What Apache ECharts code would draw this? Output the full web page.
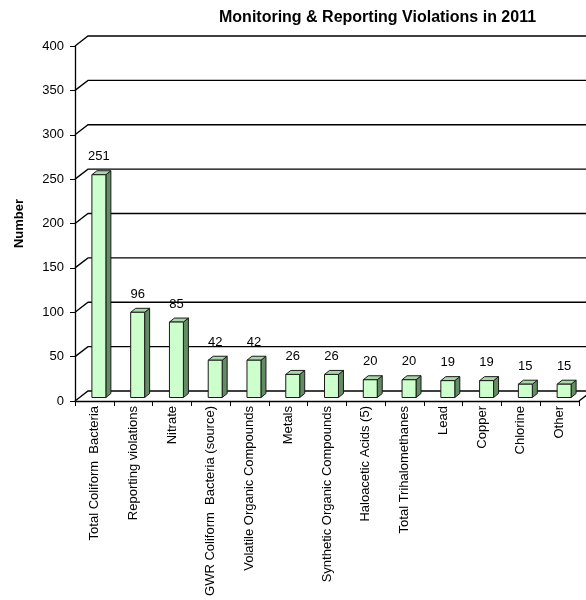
<!DOCTYPE html>
<html>
<head>
<meta charset="utf-8">
<script src="https://cdn.jsdelivr.net/npm/echarts@6/dist/echarts.min.js"></script>
<style>html,body{margin:0;padding:0;background:#fff}#c{width:586px;height:600px}</style>
</head>
<body>
<div id="c"></div>
<script>
var categories = ['Total Coliform  Bacteria','Reporting violations','Nitrate','GWR Coliform  Bacteria (source)','Volatile Organic Compounds','Metals','Synthetic Organic Compounds','Haloacetic Acids (5)','Total Trihalomethanes','Lead','Copper','Chlorine','Other'];
var values = [251, 96, 85, 42, 42, 26, 26, 20, 20, 19, 19, 15, 15];
var yTicks = [0, 50, 100, 150, 200, 250, 300, 350, 400];
var titleText = 'Monitoring & Reporting Violations in 2011';
var yName = 'Number';

var FONT = '"Liberation Sans", Arial, sans-serif';
var DX = 13, DY = -10;      // wall depth
var chart = echarts.init(document.getElementById('c'), null, {renderer: 'canvas'});

function wallItem(params, api) {
  var cs = params.coordSys;
  var v = api.value(0);
  var p = api.coord([0, v]);
  var x0 = cs.x, y = p[1];
  var children = [{
    type: 'polyline',
    shape: {points: [[x0, y], [x0 + DX, y + DY], [cs.x + cs.width + DX + 20, y + DY]]},
    style: {stroke: '#000', lineWidth: 1.3, fill: null}
  }];
  if (v === 0) {
    children.push({
      type: 'line',
      shape: {x1: cs.x + cs.width, y1: y, x2: cs.x + cs.width + DX, y2: y + DY},
      style: {stroke: '#000', lineWidth: 1.3}
    });
  }
  return {type: 'group', children: children};
}

function barItem(params, api) {
  var idx = api.value(0), val = api.value(1);
  var top = api.coord([idx, val]);
  var bot = api.coord([idx, 0]);
  var band = api.size([1, 0])[0];
  var w = band * 0.36;
  var ox = 4.5, oy = -3.5, dx = 5, dy = -4;
  var cx = top[0] + ox;
  var x0 = cx - w / 2, x1 = cx + w / 2;
  var yt = top[1] + oy, yb = bot[1] + oy;
  var st = {stroke: '#1a1a1a', lineWidth: 1};
  return {
    type: 'group',
    children: [
      {type: 'polygon', shape: {points: [[x1, yt], [x1 + dx, yt + dy], [x1 + dx, yb + dy], [x1, yb]]},
       style: Object.assign({fill: '#648c64'}, st)},
      {type: 'polygon', shape: {points: [[x0, yt], [x0 + dx, yt + dy], [x1 + dx, yt + dy], [x1, yt]]},
       style: Object.assign({fill: '#a9d6a9'}, st)},
      {type: 'rect', shape: {x: x0, y: yt, width: w, height: yb - yt},
       style: Object.assign({fill: '#ccffcc'}, st)},
      {type: 'text', style: {text: String(val), x: cx, y: yt - 18, align: 'center', verticalAlign: 'middle',
        font: '13px ' + FONT, fill: '#000'}}
    ]
  };
}

chart.setOption({
  animation: false,
  backgroundColor: '#fff',
  title: {
    text: titleText, left: 214, top: 5,
    textStyle: {fontFamily: FONT, fontSize: 16, fontWeight: 'bold', color: '#000'}
  },
  grid: {left: 75, right: 7, top: 46, bottom: 199, containLabel: false},
  xAxis: {
    type: 'category', data: categories,
    axisLine: {show: true, lineStyle: {color: '#000', width: 1.3}},
    axisTick: {show: true, length: 5, lineStyle: {color: '#000'}},
    axisLabel: {rotate: 90, fontFamily: FONT, fontSize: 13, color: '#000', margin: 5, interval: 0},
    splitLine: {show: false}
  },
  yAxis: {
    type: 'value', min: 0, max: 400, interval: 50,
    name: yName, nameLocation: 'middle', nameGap: 49,
    nameTextStyle: {fontFamily: FONT, fontSize: 13, fontWeight: 'bold', color: '#000'},
    axisLine: {show: true, lineStyle: {color: '#000', width: 1.3}},
    axisTick: {show: true, length: 5, lineStyle: {color: '#000'}},
    axisLabel: {fontFamily: FONT, fontSize: 13, color: '#000', margin: 11},
    splitLine: {show: false}
  },
  series: [
    {type: 'custom', renderItem: wallItem, data: yTicks.map(function (t) { return [t]; }),
     encode: {y: 0}, silent: true, z: 1, clip: false},
    {type: 'custom', renderItem: barItem, data: values.map(function (v, i) { return [i, v]; }),
     encode: {x: 0, y: 1}, z: 3, clip: false}
  ]
});
</script>
</body>
</html>
